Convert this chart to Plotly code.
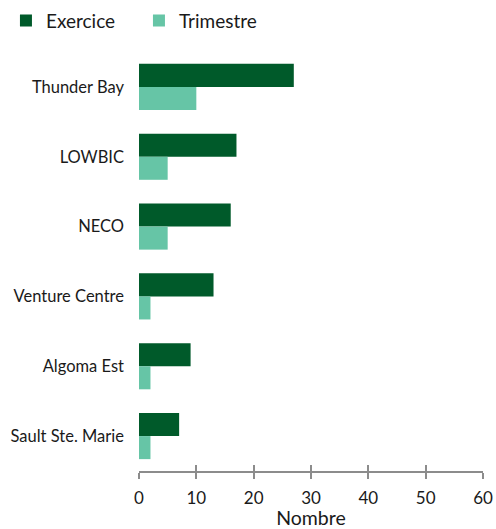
import plotly.graph_objects as go

categories = ["Thunder Bay", "LOWBIC", "NECO", "Venture Centre", "Algoma Est", "Sault Ste. Marie"]
exercice = [27, 17, 16, 13, 9, 7]
trimestre = [10, 5, 5, 2, 2, 2]
tick_vals = [0, 10, 20, 30, 40, 50, 60]

FONT = "Lato, 'Open Sans', sans-serif"
DARK = "#005a2a"
LIGHT = "#66c5a6"
AXIS = "#8c8c8c"
TXT = "#1a1a1a"

W, H = 496, 529
fig = go.Figure()
fig.add_trace(go.Bar(y=categories, x=exercice, orientation="h", name="Exercice",
                     marker=dict(color=DARK, line=dict(width=0))))
fig.add_trace(go.Bar(y=categories, x=trimestre, orientation="h", name="Trimestre",
                     marker=dict(color=LIGHT, line=dict(width=0))))
# empty trace so the overlaid tick axis (x2) gets drawn
fig.add_trace(go.Scatter(x=[], y=[], xaxis="x2", yaxis="y", showlegend=False,
                         hoverinfo="skip", mode="markers"))

fig.update_layout(
    width=W, height=H,
    margin=dict(l=139, r=13, t=52, b=58, autoexpand=False),
    paper_bgcolor="white", plot_bgcolor="white",
    barmode="group", bargap=0.34, bargroupgap=0,
    font=dict(family=FONT, color=TXT),
    showlegend=True,
    legend=dict(orientation="h", xref="container", yref="paper",
                x=0.012, y=1.12, xanchor="left", yanchor="top",
                font=dict(size=19, family=FONT, color=TXT),
                itemwidth=30, entrywidth=88, traceorder="normal"),
    xaxis=dict(range=[0, 60], tickvals=tick_vals, showgrid=False, zeroline=False,
               showline=True, linecolor=AXIS, linewidth=2,
               ticks="outside", ticklen=6, tickwidth=2, tickcolor=AXIS,
               showticklabels=False,
               title=dict(text="Nombre", font=dict(size=19.5, family=FONT, color=TXT), standoff=43),
               automargin=False, fixedrange=True),
    xaxis2=dict(range=[0, 60], tickvals=tick_vals, overlaying="x", anchor="y", side="bottom",
                showgrid=False, zeroline=False, showline=False, showticklabels=True,
                ticks="inside", ticklen=6, tickwidth=2, tickcolor=AXIS,
                ticklabelstandoff=15, automargin=False,
                tickfont=dict(size=17, family=FONT, color=TXT)),
    yaxis=dict(autorange="reversed", showgrid=False, zeroline=False, showline=False,
               ticks="", ticklabelstandoff=14, automargin=False,
               tickfont=dict(size=16.5, family=FONT, color=TXT)),
)

fig.write_html("out.html", config={"displayModeBar": False},
               post_script="document.body.style.margin='0';document.body.style.overflow='hidden';")
